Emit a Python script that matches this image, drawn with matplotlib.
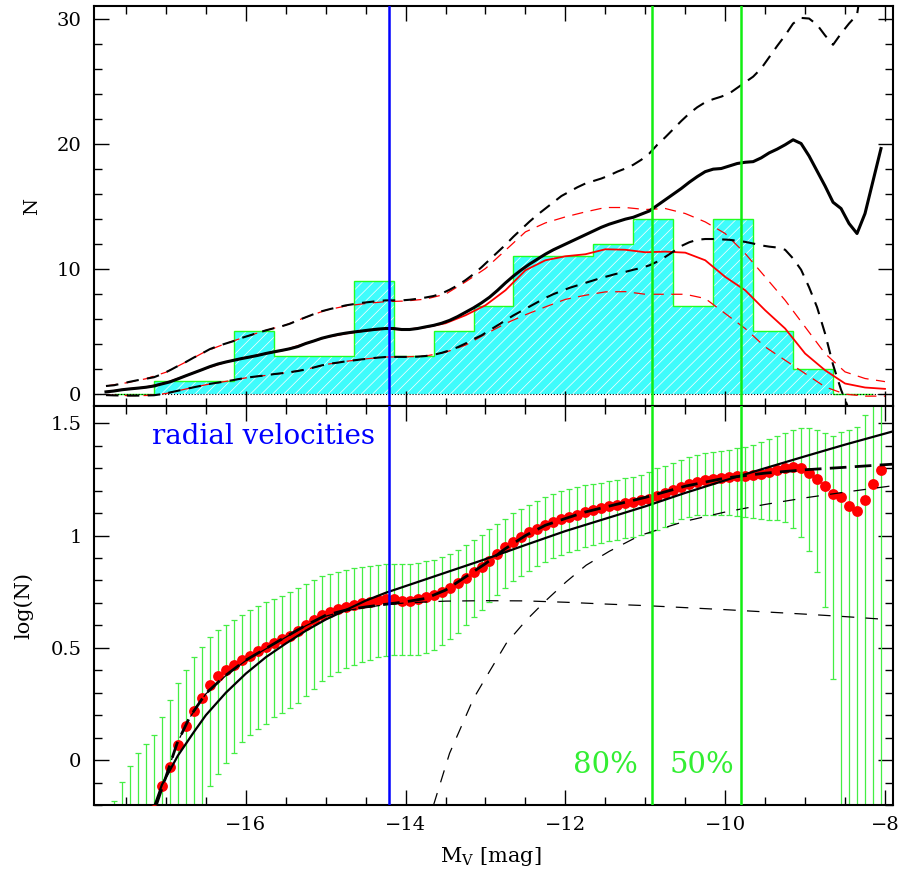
import numpy as np
import matplotlib
matplotlib.use("Agg")
import matplotlib.pyplot as plt
from matplotlib.ticker import MultipleLocator, FormatStrFormatter

plt.rcParams['font.family'] = ['DejaVu Serif']
plt.rcParams['mathtext.fontset'] = 'dejavuserif'
plt.rcParams['hatch.linewidth'] = 0.5

# histogram, 0.5 mag bins
bin_edges = np.arange(-17.65, -8.1, 0.5)
counts = [0, 1, 1, 5, 3, 3, 9, 3, 5, 7, 11, 11, 12, 14, 7, 14, 5, 2, 0]

# smoothed counts (black) and envelopes, sampled every 0.1 mag
mv = np.linspace(-17.75, -8.05, 98)
n_mid = [0.13, 0.2, 0.3, 0.37, 0.43, 0.5, 0.6, 0.77, 0.93, 1.17,
         1.42, 1.66, 1.9, 2.15, 2.36, 2.52, 2.66, 2.8, 2.92, 3.05,
         3.2, 3.33, 3.45, 3.58, 3.75, 4.0, 4.2, 4.42, 4.58, 4.72,
         4.83, 4.92, 5.0, 5.08, 5.15, 5.2, 5.2, 5.12, 5.12, 5.2,
         5.33, 5.45, 5.62, 5.85, 6.15, 6.5, 6.85, 7.25, 7.7, 8.25,
         8.85, 9.4, 9.9, 10.35, 10.75, 11.15, 11.5, 11.8, 12.1, 12.4,
         12.7, 13.0, 13.3, 13.55, 13.75, 13.95, 14.1, 14.35, 14.6, 15.05,
         15.5, 15.95, 16.4, 16.9, 17.35, 17.75, 17.95, 18.0, 18.2, 18.4,
         18.5, 18.55, 18.85, 19.25, 19.55, 19.9, 20.3, 20.0, 19.0, 17.8,
         16.6, 15.3, 14.8, 13.6, 12.8, 14.4, 17.0, 19.6]
n_hi = [0.6, 0.66, 0.8, 0.94, 1.07, 1.18, 1.3, 1.55, 1.86, 2.2,
        2.52, 2.88, 3.2, 3.55, 3.8, 4.0, 4.2, 4.45, 4.65, 4.85,
        5.05, 5.22, 5.38, 5.58, 5.85, 6.1, 6.35, 6.58, 6.75, 6.9,
        7.05, 7.15, 7.25, 7.32, 7.4, 7.45, 7.45, 7.45, 7.5, 7.58,
        7.68, 7.8, 8.0, 8.3, 8.65, 9.07, 9.55, 10.1, 10.7, 11.3,
        11.9, 12.55, 13.15, 13.75, 14.3, 14.8, 15.3, 15.8, 16.15, 16.5,
        16.8, 17.0, 17.2, 17.45, 17.75, 18.0, 18.3, 18.7, 19.2, 19.9,
        20.5, 21.15, 21.8, 22.4, 22.9, 23.3, 23.55, 23.75, 24.0, 24.45,
        24.9, 25.35, 26.0, 26.9, 27.8, 28.65, 29.6, 30.05, 30.0, 29.5,
        28.65, 27.9, 28.8, 29.6, 30.3, 34.5, 40.0, 45.0]
n_lo = [-0.13, -0.15, -0.16, -0.17, -0.17, -0.16, -0.14, -0.05, 0.08, 0.22,
        0.36, 0.5, 0.63, 0.77, 0.87, 0.97, 1.08, 1.2, 1.3, 1.38,
        1.45, 1.55, 1.62, 1.7, 1.8, 1.92, 2.08, 2.25, 2.38, 2.47,
        2.57, 2.65, 2.73, 2.8, 2.87, 2.92, 2.93, 2.93, 2.93, 2.95,
        3.0, 3.1, 3.25, 3.45, 3.7, 4.0, 4.35, 4.65, 5.05, 5.45,
        5.85, 6.25, 6.6, 6.95, 7.3, 7.65, 7.95, 8.2, 8.45, 8.65,
        8.85, 9.05, 9.25, 9.42, 9.6, 9.73, 9.9, 10.05, 10.25, 10.55,
        10.93, 11.35, 11.8, 12.1, 12.3, 12.36, 12.36, 12.33, 12.3, 12.22,
        12.13, 12.0, 11.85, 11.75, 11.68, 11.5, 10.8, 9.9, 8.5, 6.9,
        4.8, 2.3, 0.3, -1.3, -2.5, -3.5, -4.5, -5.5]

# red curves (complete-sample version), every 0.25 mag
mv_red = np.linspace(-17.75, -8.0, 40)
red_mid = [0.13, 0.34, 0.5, 0.85, 1.42, 2.02, 2.52, 2.86, 3.2, 3.5,
           4.0, 4.5, 4.8, 5.02, 5.18, 5.1, 5.3, 5.62, 6.26, 7.06,
           8.26, 9.86, 10.66, 10.98, 11.14, 11.54, 11.5, 11.3, 11.35, 11.27,
           10.66, 9.33, 8.26, 6.66, 5.2, 3.2, 1.86, 0.8, 0.48, 0.37]
red_hi = [0.6, 0.85, 1.18, 1.7, 2.52, 3.38, 4.0, 4.55, 5.05, 5.48,
          6.1, 6.66, 7.0, 7.2, 7.35, 7.4, 7.55, 7.95, 8.93, 10.0,
          11.46, 12.93, 13.65, 14.13, 14.53, 14.88, 14.88, 14.72, 14.8, 14.4,
          13.73, 12.8, 11.2, 9.33, 7.46, 5.33, 3.2, 1.73, 1.2, 0.95]
red_lo = [-0.13, -0.16, -0.16, 0.0, 0.36, 0.7, 0.97, 1.25, 1.45, 1.66,
          1.92, 2.32, 2.57, 2.77, 2.92, 2.93, 3.0, 3.3, 3.87, 4.75,
          5.6, 6.3, 6.93, 7.53, 7.86, 8.13, 8.15, 7.94, 7.94, 7.94,
          7.6, 6.4, 5.2, 3.73, 2.66, 1.6, 0.53, -0.05, -0.21, -0.21]

# fits in log(N)
fit_x = [-17.15, -17.05, -16.85, -16.65, -16.5, -16.25, -16.0, -15.75, -15.5,
         -15.25, -15.0, -14.75, -14.5, -14.25, -14.0, -13.5, -13.0, -12.5,
         -12.0, -11.5, -11.0, -10.5, -10.0, -9.5, -9.0, -8.5, -7.9]
fit_y = [-0.21, -0.11, 0.02, 0.125, 0.2, 0.3, 0.385, 0.458, 0.519,
         0.576, 0.626, 0.668, 0.71, 0.745, 0.775, 0.835, 0.895, 0.958,
         1.02, 1.075, 1.13, 1.19, 1.246, 1.3, 1.353, 1.405, 1.464]
sum_x = [-17.12, -17.0, -16.86, -16.7, -16.5, -16.25, -16.0, -15.75, -15.5,
         -15.25, -15.0, -14.75, -14.5, -14.25, -14.0, -13.75, -13.5, -13.25,
         -13.0, -12.75, -12.5, -12.25, -12.0, -11.75, -11.5, -11.0, -10.5,
         -10.0, -9.5, -9.0, -8.5, -7.9]
sum_y = [-0.2, -0.074, 0.075, 0.193, 0.297, 0.378, 0.445, 0.497, 0.549,
         0.6, 0.645, 0.668, 0.682, 0.694, 0.705, 0.72, 0.757, 0.816,
         0.875, 0.942, 1.0, 1.046, 1.076, 1.105, 1.127, 1.17, 1.22,
         1.256, 1.278, 1.293, 1.304, 1.318]
comp1_x = [-17.12, -17.0, -16.86, -16.7, -16.5, -16.25, -16.0, -15.75, -15.5,
           -15.25, -15.0, -14.75, -14.5, -14.25, -14.0, -13.5, -13.0, -12.5,
           -12.0, -11.5, -11.0, -10.5, -10.0, -9.5, -9.0, -8.5, -8.05]
comp1_y = [-0.2, -0.074, 0.075, 0.19, 0.295, 0.376, 0.443, 0.495, 0.547,
           0.598, 0.641, 0.665, 0.68, 0.692, 0.7, 0.708, 0.71, 0.709,
           0.703, 0.695, 0.688, 0.679, 0.67, 0.66, 0.65, 0.639, 0.628]
comp2_x = [-13.65, -13.45, -13.15, -12.99, -12.74, -12.49, -12.24, -11.99,
           -11.74, -11.45, -11.07, -10.51, -10.01, -9.51, -9.0, -8.51, -7.9]
comp2_y = [-0.2, 0.03, 0.274, 0.371, 0.52, 0.623, 0.712, 0.794,
           0.868, 0.93, 1.0, 1.063, 1.104, 1.138, 1.168, 1.193, 1.222]

rv_limit = -14.21
completeness = [-10.91, -9.8]

fig = plt.figure(figsize=(9.03, 8.75), dpi=100)
ax1 = fig.add_axes([0.1041, 0.536, 0.8848, 0.4571])
ax2 = fig.add_axes([0.1041, 0.08, 0.8848, 0.456], sharex=ax1)

# top panel
ax1.stairs(counts, bin_edges, fill=True, facecolor='#3ffcfc', edgecolor='white',
           hatch='///', linewidth=0, zorder=1)
ax1.stairs(counts, bin_edges, color='#22ff22', linewidth=1.0, zorder=2)
ax1.axhline(0, color='k', ls=':', lw=0.8, zorder=2)

ax1.plot(mv_red, red_mid, color='red', lw=1.3, zorder=3)
ax1.plot(mv_red, red_hi, color='red', lw=0.9, dashes=(9, 6), zorder=3)
ax1.plot(mv_red, red_lo, color='red', lw=0.9, dashes=(9, 6), zorder=3)
ax1.plot(mv, n_mid, color='k', lw=2.2, zorder=4)
ax1.plot(mv, n_hi, color='k', lw=1.5, dashes=(6, 4), zorder=4)
ax1.plot(mv, n_lo, color='k', lw=1.5, dashes=(6, 4), zorder=4)

ax1.set_ylim(-1, 31)
ax1.yaxis.set_major_locator(MultipleLocator(10))
ax1.yaxis.set_minor_locator(MultipleLocator(2))
ax1.set_ylabel('N', fontsize=14)
ax1.yaxis.set_label_coords(-0.0667, 0.5)

# bottom panel
n_mid = np.array(n_mid)
log_mid = np.log10(n_mid)
log_hi = np.log10(np.array(n_hi))
log_lo = np.log10(np.clip(np.array(n_lo), 0.01, None))
ax2.errorbar(mv, log_mid, yerr=[log_mid - log_lo, log_hi - log_mid], fmt='none',
             ecolor='#44ee44', elinewidth=0.9, capsize=2.5, capthick=0.9, zorder=2)
ax2.plot(mv, log_mid, 'o', color='red', ms=7.8, mec='none', zorder=3)
ax2.plot(fit_x, fit_y, color='k', lw=1.6, zorder=4)
ax2.plot(sum_x, sum_y, color='k', lw=2.0, dashes=(6, 3), zorder=4)
ax2.plot(comp1_x, comp1_y, color='k', lw=0.9, dashes=(10, 9), zorder=4)
ax2.plot(comp2_x, comp2_y, color='k', lw=0.9, dashes=(10, 9), zorder=4)

ax2.set_ylim(-0.2, 1.577)
ax2.yaxis.set_major_locator(MultipleLocator(0.5))
ax2.yaxis.set_minor_locator(MultipleLocator(0.1))
ax2.yaxis.set_major_formatter(FormatStrFormatter('%g'))
ax2.set_ylabel('log(N)', fontsize=15)
ax2.yaxis.set_label_coords(-0.0763, 0.5)
ax2.set_xlabel(r'M$_{\rm V}$ [mag]', fontsize=15)
ax2.xaxis.set_label_coords(0.496, -0.1)

ax2.text(-17.175, 1.409, 'radial velocities', color='blue', fontsize=20,
         ha='left', va='baseline')
ax2.text(-11.91, -0.056, '80%', color='#33ee33', fontsize=21, ha='left', va='baseline')
ax2.text(-10.7, -0.056, '50%', color='#33ee33', fontsize=21, ha='left', va='baseline')

for ax in (ax1, ax2):
    ax.axvline(rv_limit, color='blue', lw=1.8, zorder=5)
    for c in completeness:
        ax.axvline(c, color='#11ee11', lw=1.8, zorder=5)
    ax.set_xlim(-17.9, -7.9)
    ax.xaxis.set_major_locator(MultipleLocator(2))
    ax.xaxis.set_minor_locator(MultipleLocator(0.5))
    ax.tick_params(which='both', direction='in', top=True, right=True,
                   width=1.0, labelsize=14)
    ax.tick_params(which='major', length=10.5)
    ax.tick_params(which='minor', length=5.5)
    ax.tick_params(axis='x', pad=8)
    ax.tick_params(axis='y', pad=9)
    for s in ax.spines.values():
        s.set_linewidth(1.5)
ax1.tick_params(labelbottom=False)

fig.savefig('out.png', dpi=100)
